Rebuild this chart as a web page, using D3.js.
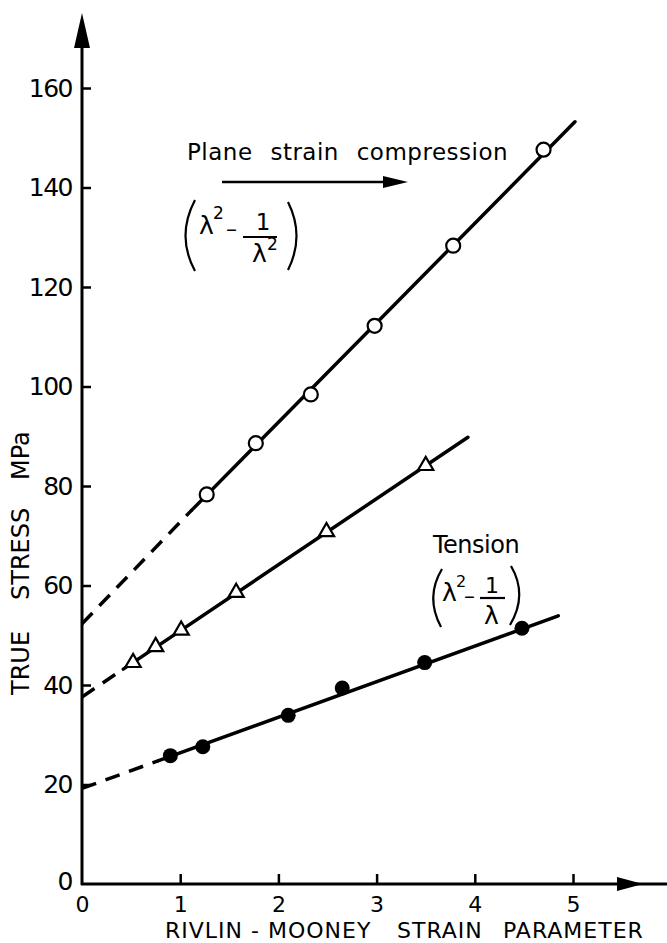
<!DOCTYPE html>
<html>
<head>
<meta charset="utf-8">
<script src="https://cdn.jsdelivr.net/npm/d3@7"></script>
<style>
  body { margin: 0; background: #fff; }
  text { font-family: "DejaVu Sans", sans-serif; fill: #000; }
</style>
</head>
<body>
<script>
// Chart data
const xTicks = [0, 1, 2, 3, 4, 5];
const yTicks = [0, 20, 40, 60, 80, 100, 120, 140, 160];

// plane strain compression (open circles)
const compressionPts = [[1.27, 78.3], [1.77, 88.6], [2.33, 98.4], [2.98, 112.2], [3.78, 128.3], [4.70, 147.6]];
// intermediate series (open triangles)
const trianglePts = [[0.52, 44.5], [0.75, 47.7], [1.01, 51.0], [1.57, 58.6], [2.49, 70.8], [3.50, 84.1]];
// tension (filled circles)
const tensionPts = [[0.90, 25.8], [1.23, 27.6], [2.10, 33.9], [2.65, 39.4], [3.49, 44.5], [4.48, 51.4]];

// fitted lines: dashed extrapolation to zero, then solid
const compressionDash = [[0, 52.3], [1.12, 75.2]];
const compressionSolid = [[1.12, 75.2], [5.02, 153.2]];
const triangleDash = [[0, 37.6], [0.42, 43.2]];
const triangleSolid = [[0.42, 43.2], [3.93, 89.8]];
const tensionDash = [[0, 19.2], [0.78, 24.8]];
const tensionSolid = [[0.78, 24.8], [4.85, 53.9]];

const width = 667;
const height = 943;

const svg = d3.select("body").append("svg")
    .attr("width", width)
    .attr("height", height);

const x = d3.scaleLinear().domain([0, 5]).range([82, 573]);
const y = d3.scaleLinear().domain([0, 160]).range([884, 88]);

// Axes (ticks point inward)
const yAxis = svg.append("g")
    .attr("transform", `translate(${x(0)},0)`)
    .call(d3.axisLeft(y).tickValues(yTicks).tickFormat(d3.format("d"))
        .tickSizeInner(-9).tickSizeOuter(0).tickPadding(10));
yAxis.select(".domain").remove();
yAxis.selectAll(".tick line").attr("stroke", "#000").attr("stroke-width", 2.5);
yAxis.selectAll(".tick text")
    .attr("font-size", 25)
    .attr("letter-spacing", -1.5)
    .attr("font-family", "DejaVu Sans, sans-serif")
    .attr("fill", "#000");
yAxis.selectAll(".tick").filter(d => d === 0).select("text").attr("dy", "0.2em");

const xAxis = svg.append("g")
    .attr("transform", `translate(0,${y(0)})`)
    .call(d3.axisBottom(x).tickValues(xTicks).tickFormat(d3.format("d"))
        .tickSizeInner(-10).tickSizeOuter(0).tickPadding(12));
xAxis.select(".domain").remove();
xAxis.selectAll(".tick line").attr("stroke", "#000").attr("stroke-width", 2.5);
xAxis.selectAll(".tick text")
    .attr("font-size", 22)
    .attr("font-family", "DejaVu Sans, sans-serif")
    .attr("fill", "#000");
// the "0" tick marks sit on the other axis, hide them
xAxis.selectAll(".tick").filter(d => d === 0).select("line").remove();
yAxis.selectAll(".tick").filter(d => d === 0).select("line").remove();

// axis lines with arrowheads
svg.append("line")
    .attr("x1", x(0)).attr("y1", y(0) + 1).attr("x2", x(0)).attr("y2", 40)
    .attr("stroke", "#000").attr("stroke-width", 3);
svg.append("path")
    .attr("d", `M${x(0)},13 L${x(0) - 8},48 L${x(0) + 8},48 Z`)
    .attr("fill", "#000");
svg.append("line")
    .attr("x1", x(0) - 1).attr("y1", y(0)).attr("x2", 667).attr("y2", y(0))
    .attr("stroke", "#000").attr("stroke-width", 3);
svg.append("path")
    .attr("d", `M643,${y(0)} L617,${y(0) - 7} L617,${y(0) + 7} Z`)
    .attr("fill", "#000");

// Axis titles
svg.append("text")
    .attr("y", 938)
    .attr("font-size", 22)
    .attr("letter-spacing", 1)
    .selectAll("tspan")
    .data([["RIVLIN - MOONEY", 165], ["STRAIN", 397], ["PARAMETER", 503]])
    .enter()
    .append("tspan")
    .attr("x", d => d[1])
    .text(d => d[0]);

svg.append("text")
    .attr("transform", "rotate(-90)")
    .attr("y", 29)
    .attr("font-size", 24)
    .selectAll("tspan")
    .data([["TRUE", -695], ["STRESS", -600], ["MPa", -480]])
    .enter()
    .append("tspan")
    .attr("x", d => d[1])
    .text(d => d[0]);

// Fitted lines
const line = d3.line().x(d => x(d[0])).y(d => y(d[1]));
[compressionDash, triangleDash, tensionDash].forEach(seg => {
    svg.append("path")
        .attr("d", line(seg))
        .attr("fill", "none")
        .attr("stroke", "#000")
        .attr("stroke-width", 3.5)
        .attr("stroke-dasharray", "15,10");
});
[compressionSolid, triangleSolid, tensionSolid].forEach(seg => {
    svg.append("path")
        .attr("d", line(seg))
        .attr("fill", "none")
        .attr("stroke", "#000")
        .attr("stroke-width", 3.5)
        .attr("stroke-linecap", "round");
});

// Markers
svg.selectAll(".comp")
    .data(compressionPts)
    .enter()
    .append("circle")
    .attr("cx", d => x(d[0]))
    .attr("cy", d => y(d[1]))
    .attr("r", 7)
    .attr("fill", "#fff")
    .attr("stroke", "#000")
    .attr("stroke-width", 2.2);

svg.selectAll(".tri")
    .data(trianglePts)
    .enter()
    .append("path")
    .attr("d", d3.symbol().type(d3.symbolTriangle).size(100))
    .attr("transform", d => `translate(${x(d[0])},${y(d[1])})`)
    .attr("fill", "#fff")
    .attr("stroke", "#000")
    .attr("stroke-width", 2.2);

svg.selectAll(".ten")
    .data(tensionPts)
    .enter()
    .append("circle")
    .attr("cx", d => x(d[0]))
    .attr("cy", d => y(d[1]))
    .attr("r", 7.5)
    .attr("fill", "#000");

// Annotations
svg.append("text")
    .attr("x", 187).attr("y", 160)
    .attr("font-size", 23)
    .attr("letter-spacing", 0.5)
    .attr("word-spacing", 10)
    .text("Plane strain compression");

svg.append("line")
    .attr("x1", 222).attr("y1", 182).attr("x2", 390).attr("y2", 182)
    .attr("stroke", "#000").attr("stroke-width", 2.5);
svg.append("path")
    .attr("d", "M408,182 L383,176 L383,188 Z")
    .attr("fill", "#000");

// (λ² − 1/λ²)
svg.append("path")
    .attr("d", "M195,200 Q176,236 195,271")
    .attr("fill", "none").attr("stroke", "#000").attr("stroke-width", 2.2);
svg.append("path")
    .attr("d", "M288,202 Q305,236 288,270")
    .attr("fill", "none").attr("stroke", "#000").attr("stroke-width", 2.2);
svg.append("text").attr("x", 199).attr("y", 234).attr("font-size", 25).text("λ");
svg.append("text").attr("x", 213).attr("y", 219).attr("font-size", 17).text("2");
svg.append("text").attr("x", 226).attr("y", 236).attr("font-size", 22).text("–");
svg.append("text").attr("x", 263).attr("y", 230).attr("font-size", 23).attr("text-anchor", "middle").text("1");
svg.append("line")
    .attr("x1", 243).attr("y1", 237).attr("x2", 277).attr("y2", 237)
    .attr("stroke", "#000").attr("stroke-width", 2.2);
svg.append("text").attr("x", 252).attr("y", 262).attr("font-size", 25).text("λ");
svg.append("text").attr("x", 267).attr("y", 250).attr("font-size", 17).text("2");

// Tension label and (λ² − 1/λ)
svg.append("text")
    .attr("x", 433).attr("y", 553)
    .attr("font-size", 24)
    .attr("letter-spacing", -0.5)
    .text("Tension");
svg.append("path")
    .attr("d", "M442,569 Q425,597 441,627")
    .attr("fill", "none").attr("stroke", "#000").attr("stroke-width", 2.2);
svg.append("path")
    .attr("d", "M511,566 Q528,595 510,625")
    .attr("fill", "none").attr("stroke", "#000").attr("stroke-width", 2.2);
svg.append("text").attr("x", 442).attr("y", 601).attr("font-size", 25).text("λ");
svg.append("text").attr("x", 456).attr("y", 587).attr("font-size", 16).text("2");
svg.append("text").attr("x", 464).attr("y", 603).attr("font-size", 22).text("–");
svg.append("text").attr("x", 492).attr("y", 593).attr("font-size", 22).attr("text-anchor", "middle").text("1");
svg.append("line")
    .attr("x1", 480).attr("y1", 598).attr("x2", 505).attr("y2", 598)
    .attr("stroke", "#000").attr("stroke-width", 2.2);
svg.append("text").attr("x", 484).attr("y", 624).attr("font-size", 25).text("λ");
</script>
</body>
</html>
